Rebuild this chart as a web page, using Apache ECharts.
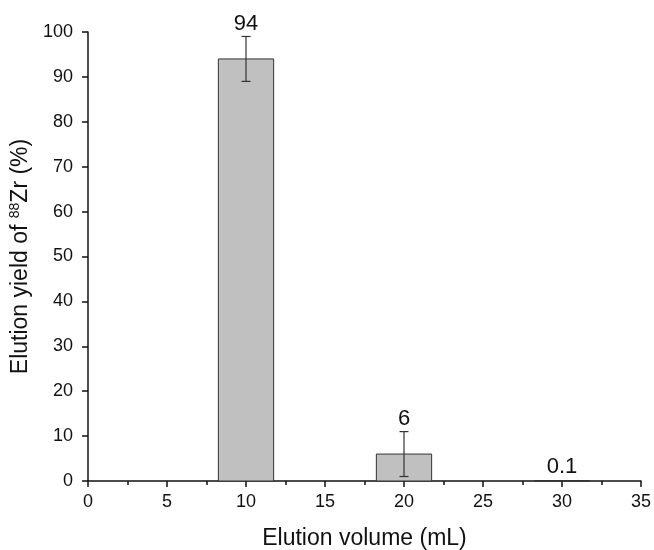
<!DOCTYPE html>
<html>
<head>
<meta charset="utf-8">
<script src="https://cdn.jsdelivr.net/npm/echarts@6/dist/echarts.min.js"></script>
<style>html,body{margin:0;padding:0;background:#fff;}#c{width:654px;height:550px;}</style>
</head>
<body>
<div id="c"></div>
<script>
const volumes = [10, 20, 30];
const yields = [94, 6, 0.1];
const errors = [5, 5, 0.05];
const labels = ['94', '6', '0.1'];
const xTicks = [0, 5, 10, 15, 20, 25, 30, 35];
const yTicks = [0, 10, 20, 30, 40, 50, 60, 70, 80, 90, 100];
const barWidthUnits = 3.5;

const font = '"Liberation Sans", Arial, sans-serif';
const data = volumes.map((v, i) => [v, yields[i], errors[i]]);

const chart = echarts.init(document.getElementById('c'));
chart.setOption({
  animation: false,
  grid: {left: 88, right: 13, top: 32, bottom: 69, containLabel: false, outerBoundsMode: 'none'},
  xAxis: {
    type: 'value', min: xTicks[0], max: xTicks[xTicks.length-1], interval: 5,
    name: 'Elution volume (mL)', nameLocation: 'middle', nameGap: 46,
    nameTextStyle: {fontFamily: font, fontSize: 23, color: '#111'},
    axisLine: {lineStyle: {color: '#111', width: 1.5}},
    axisTick: {inside: false, length: 6, lineStyle: {color: '#111', width: 1.5}},
    minorTick: {show: true, splitNumber: 2, length: 4, lineStyle: {color: '#111', width: 1.5}},
    axisLabel: {fontFamily: font, fontSize: 18, color: '#111', margin: 12},
    splitLine: {show: false}
  },
  yAxis: {
    type: 'value', min: yTicks[0], max: yTicks[yTicks.length-1], interval: 10,
    name: '{a|Elution yield of }{s|88}{a|Zr (%)}', nameLocation: 'middle', nameGap: 50, nameRotate: 90,
    nameTextStyle: {
      fontFamily: font, fontSize: 23, color: '#111',
      rich: {
        a: {fontFamily: font, fontSize: 23, color: '#111'},
        s: {fontFamily: font, fontSize: 14, color: '#111', verticalAlign: 'top', padding: [0,0,10,0]}
      }
    },
    axisLine: {show: true, lineStyle: {color: '#111', width: 1.5}},
    axisTick: {show: true, inside: false, length: 6, lineStyle: {color: '#111', width: 1.5}},
    axisLabel: {fontFamily: font, fontSize: 18, color: '#111', margin: 15},
    splitLine: {show: false}
  },
  series: [{
    type: 'custom',
    data: data,
    renderItem: function (params, api) {
      const x = api.value(0), y = api.value(1), e = api.value(2);
      const lab = labels[params.dataIndex];
      const p0 = api.coord([x - barWidthUnits/2, 0]);
      const p1 = api.coord([x + barWidthUnits/2, y]);
      const top = api.coord([x, y + e]);
      const bot = api.coord([x, Math.max(0, y - e)]);
      const children = [{
        type: 'rect',
        shape: {x: p0[0], y: p1[1], width: p1[0]-p0[0], height: p0[1]-p1[1]},
        style: {fill: '#c0c0c0', stroke: '#333', lineWidth: 1}
      }];
      if (e >= 1) {
        const cap = 4.5;
        children.push({type: 'line', shape: {x1: top[0], y1: top[1], x2: bot[0], y2: bot[1]}, style: {stroke: '#333', lineWidth: 1.2}});
        children.push({type: 'line', shape: {x1: top[0]-cap, y1: top[1], x2: top[0]+cap, y2: top[1]}, style: {stroke: '#333', lineWidth: 1.2}});
        children.push({type: 'line', shape: {x1: bot[0]-cap, y1: bot[1], x2: bot[0]+cap, y2: bot[1]}, style: {stroke: '#333', lineWidth: 1.2}});
      }
      children.push({
        type: 'text',
        style: {text: lab, x: top[0], y: top[1] - 2, textAlign: 'center', textVerticalAlign: 'bottom',
                font: '22px ' + font, fill: '#111'}
      });
      return {type: 'group', children: children};
    }
  }]
});
</script>
</body>
</html>
